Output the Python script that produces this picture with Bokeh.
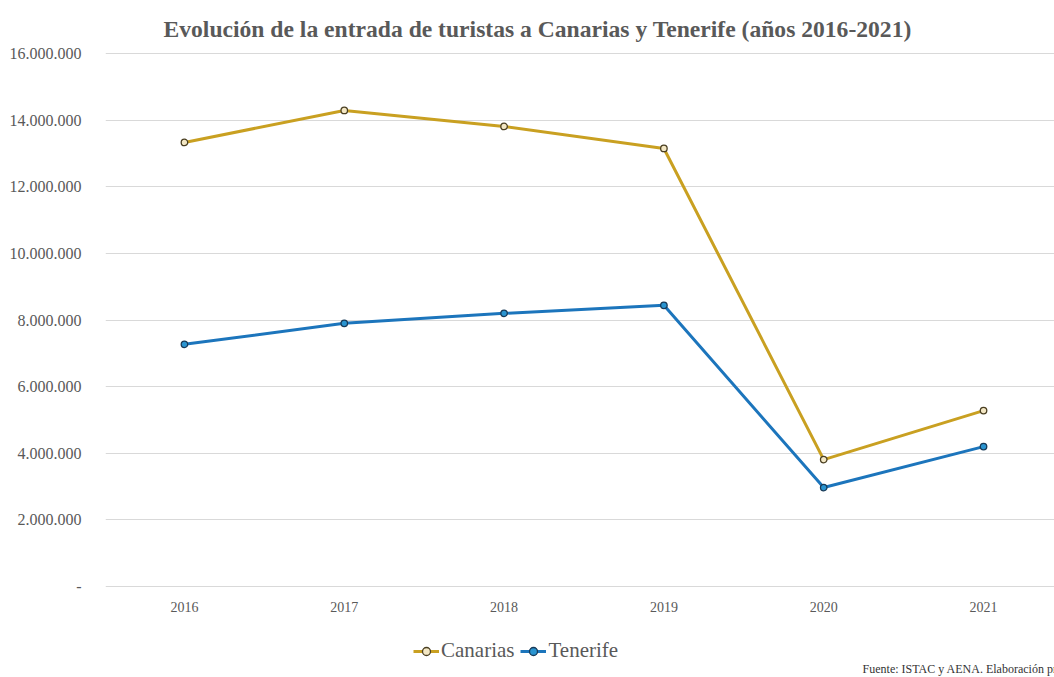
from bokeh.plotting import figure
from bokeh.models import (Range1d, Legend, LegendItem, CustomJSTickFormatter, FixedTicker,
                          Title, LinearAxis, Label)
from bokeh.embed import file_html
from bokeh.resources import INLINE

years = [2016, 2017, 2018, 2019, 2020, 2021]
canarias = [13330000, 14290000, 13810000, 13150000, 3810000, 5280000]
tenerife = [7270000, 7900000, 8200000, 8440000, 2970000, 4200000]
y_ticks = [0, 2000000, 4000000, 6000000, 8000000, 10000000, 12000000, 14000000, 16000000]

title_text = "Evolución de la entrada de turistas a Canarias y Tenerife (años 2016-2021)"
source_text = "Fuente: ISTAC y AENA. Elaboración propia"

GOLD = "#C9A021"
BLUE = "#1C75BC"
TXT = "#595959"
FONT = "Liberation Serif"

p = figure(width=1054, height=677, output_backend="svg", toolbar_location=None,
           x_range=Range1d(2015.506, 2021.444), y_range=Range1d(-2731700, 16060040),
           x_axis_location=None,
           min_border_left=105, min_border_right=0, min_border_top=51, min_border_bottom=0)
p.outline_line_color = None
p.background_fill_color = "white"
p.border_fill_color = "white"
p.xgrid.grid_line_color = None
p.ygrid.grid_line_color = "#D9D9D9"
p.ygrid.grid_line_width = 1

xaxis = LinearAxis(fixed_location=0, ticker=FixedTicker(ticks=years),
                   formatter=CustomJSTickFormatter(code="return Math.round(tick).toString();"))
p.add_layout(xaxis, "below")

p.yaxis.ticker = FixedTicker(ticks=y_ticks)
p.yaxis.formatter = CustomJSTickFormatter(code="""
if (tick == 0) { return "-"; }
return Math.round(tick).toString().replace(/\\B(?=(\\d{3})+(?!\\d))/g, ".");
""")

for ax in (xaxis, p.yaxis[0]):
    ax.axis_line_color = None
    ax.major_tick_line_color = None
    ax.minor_tick_line_color = None
    ax.major_label_text_font = FONT
    ax.major_label_text_color = TXT
p.yaxis.major_label_text_font_size = "16px"
p.yaxis.major_label_standoff = 18
xaxis.major_label_text_font_size = "14px"
xaxis.major_label_standoff = 9

l1 = p.line(years, canarias, line_color=GOLD, line_width=3)
s1 = p.scatter(years, canarias, size=6.5, fill_color="#F3E7C4", line_color="#4A3F22", line_width=1.3)
l2 = p.line(years, tenerife, line_color=BLUE, line_width=3)
s2 = p.scatter(years, tenerife, size=6.5, fill_color="#2A94D0", line_color="#183A58", line_width=1.3)

p.title = Title(text=title_text, align="left", offset=58, standoff=20,
                text_font=FONT, text_font_style="bold", text_font_size="23.6px",
                text_color=TXT)

legend = Legend(items=[LegendItem(label="Canarias", renderers=[l1, s1]),
                       LegendItem(label="Tenerife", renderers=[l2, s2])],
                orientation="horizontal", location=(308, 14),
                label_text_font=FONT, label_text_font_size="21px", label_text_color=TXT,
                glyph_width=26, label_standoff=2, spacing=6, padding=4, margin=0,
                border_line_color=None, background_fill_alpha=0)
p.add_layout(legend, "center")

p.add_layout(Label(x=2020.243, y=0, y_offset=-82, text=source_text,
                   text_font=FONT, text_font_size="12px", text_color="#333333",
                   text_align="left", text_baseline="middle"))

open("out.html", "w").write(file_html(p, INLINE))
